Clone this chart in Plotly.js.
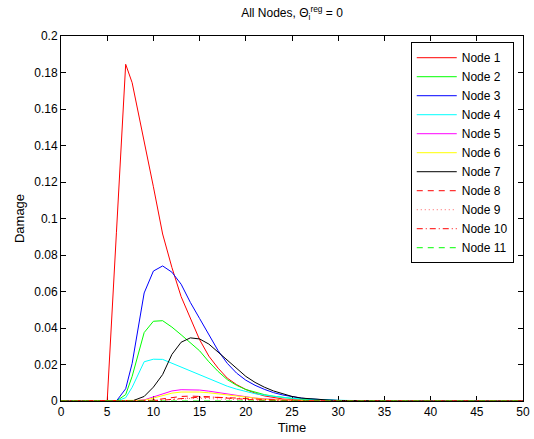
<!DOCTYPE html>
<html>
<head>
<meta charset="utf-8">
<script src="https://cdn.plot.ly/plotly-3.0.1.min.js"></script>
<style>html,body{margin:0;padding:0;background:#fff;}#chart{width:534px;height:439px;}</style>
</head>
<body>
<div id="chart"></div>
<script>
// Time samples
const time = [0,1,2,3,4,5,6,7,7.7,9,10,11,12,13,14,15,16,17,18,19,20,21,22,23,24,25,26,27,28,29,30,31,32,33,34,35,36,37,38,39,40,41,42,43,44,45,46,47,48,49,50];

const node1 = [0,0,0,0,0,0,0.0925,0.1845,0.1744,0.1427,0.1174,0.0915,0.0732,0.0572,0.0458,0.0336,0.0246,0.0180,0.0125,0.0090,0.0063,0.0043,0.0028,0.0018,0.0011,0.0007,0.0004,0.0002,0.0001,0,0,0,0,0,0,0,0,0,0,0,0,0,0,0,0,0,0,0,0,0,0];
const node2 = [0,0,0,0,0,0,0,0.0035,0.0135,0.0375,0.0437,0.0440,0.0405,0.0363,0.0318,0.0275,0.0215,0.0162,0.0117,0.0086,0.0063,0.0047,0.0035,0.0026,0.0019,0.0014,0.0010,0.0007,0.0005,0.0003,0.0002,0.0001,0,0,0,0,0,0,0,0,0,0,0,0,0,0,0,0,0,0,0];
const node3 = [0,0,0,0,0,0,0,0.0067,0.0206,0.0592,0.0712,0.0740,0.0706,0.0640,0.0540,0.0452,0.0362,0.0276,0.0206,0.0153,0.0114,0.0086,0.0064,0.0046,0.0033,0.0023,0.0016,0.0011,0.0007,0.0005,0.0003,0.0002,0.0001,0,0,0,0,0,0,0,0,0,0,0,0,0,0,0,0,0,0];
const node4 = [0,0,0,0,0,0,0,0.0018,0.0075,0.0215,0.0229,0.0228,0.0207,0.0186,0.0164,0.0143,0.0120,0.0098,0.0081,0.0065,0.0051,0.0040,0.0032,0.0025,0.0019,0.0015,0.0012,0.0009,0.0007,0.0005,0.0004,0.0003,0.0002,0.0001,0.0001,0,0,0,0,0,0,0,0,0,0,0,0,0,0,0,0];
const node5 = [0,0,0,0,0,0,0,0,0,0.0006,0.0022,0.0040,0.0055,0.0062,0.0063,0.0060,0.0054,0.0046,0.0037,0.0029,0.0022,0.0016,0.0012,0.0008,0.0006,0.0004,0.0003,0.0002,0.0001,0,0,0,0,0,0,0,0,0,0,0,0,0,0,0,0,0,0,0,0,0,0];
const node6 = [0,0,0,0,0,0,0,0,0,0.0004,0.0016,0.0031,0.0043,0.0049,0.0051,0.0049,0.0045,0.0039,0.0032,0.0025,0.0019,0.0014,0.0010,0.0007,0.0005,0.0003,0.0002,0.0001,0,0,0,0,0,0,0,0,0,0,0,0,0,0,0,0,0,0,0,0,0,0,0];
const node7 = [0,0,0,0,0,0,0,0,0,0.0025,0.0076,0.0145,0.0255,0.0322,0.0346,0.0340,0.0312,0.0268,0.0222,0.0177,0.0135,0.0102,0.0076,0.0055,0.0039,0.0025,0.0016,0.0011,0.0007,0.0005,0.0003,0.0002,0.0001,0,0,0,0,0,0,0,0,0,0,0,0,0,0,0,0,0,0];
const node8 = [0,0,0,0,0,0,0,0,0,0,0.0005,0.0013,0.0020,0.0025,0.0027,0.0026,0.0023,0.0019,0.0015,0.0011,0.0008,0.0006,0.0004,0.0003,0.0002,0.0001,0,0,0,0,0,0,0,0,0,0,0,0,0,0,0,0,0,0,0,0,0,0,0,0,0];
const node9 = [0,0,0,0,0,0,0,0,0,0,0.0002,0.0005,0.0009,0.0012,0.0014,0.0015,0.0014,0.0012,0.0010,0.0008,0.0006,0.0004,0.0003,0.0002,0.0001,0,0,0,0,0,0,0,0,0,0,0,0,0,0,0,0,0,0,0,0,0,0,0,0,0,0];
const node10 = [0,0,0,0,0,0,0,0,0,0,0.0001,0.0004,0.0009,0.0014,0.0018,0.0021,0.0022,0.0021,0.0019,0.0016,0.0013,0.0010,0.0007,0.0005,0.0003,0.0002,0.0001,0,0,0,0,0,0,0,0,0,0,0,0,0,0,0,0,0,0,0,0,0,0,0,0];
const node11 = [0,0,0,0,0,0,0,0,0,0,0,0.0001,0.0001,0.0002,0.0002,0.0002,0.0002,0.0002,0.0001,0.0001,0.0001,0,0,0,0,0,0,0,0,0,0,0,0,0,0,0,0,0,0,0,0,0,0,0,0,0,0,0,0,0,0];

const seriesNames = ["Node 1","Node 2","Node 3","Node 4","Node 5","Node 6","Node 7","Node 8","Node 9","Node 10","Node 11"];
const seriesValues = [node1,node2,node3,node4,node5,node6,node7,node8,node9,node10,node11];
const seriesColors = ["#ff0000","#00ff00","#0000ff","#00ffff","#ff00ff","#ffff00","#000000","#ff0000","#ff6060","#ff0000","#00ff00"];
const seriesDash = ["solid","solid","solid","solid","solid","solid","solid","6px,5px","1px,3px","6px,3px,1px,3px","6px,5px"];

const xTickVals = [0,5,10,15,20,25,30,35,40,45,50];
const yTickVals = [0,0.02,0.04,0.06,0.08,0.1,0.12,0.14,0.16,0.18,0.2];
const yTickText = ["0","0.02","0.04","0.06","0.08","0.1","0.12","0.14","0.16","0.18","0.2"];

const traces = seriesNames.map((name, i) => ({
  x: time,
  y: seriesValues[i],
  name: name,
  type: "scatter",
  mode: "lines",
  line: {color: seriesColors[i], width: 1, dash: seriesDash[i]}
}));

const font = "Liberation Sans, Arial, Helvetica, sans-serif";
const layout = {
  width: 534, height: 439,
  margin: {l: 61, r: 11, t: 36, b: 38, pad: 0},
  paper_bgcolor: "#fff", plot_bgcolor: "#fff",
  font: {family: font, size: 12, color: "#000"},
  title: {
    text: "All Nodes, \u0398<sub>i</sub><sup>reg</sup> = 0",
    font: {family: font, size: 12, color: "#000"},
    x: 0.5, xref: "paper", xanchor: "center",
    y: 0.970, yref: "container", yanchor: "middle"
  },
  showlegend: true,
  legend: {
    x: 0.980, y: 0.983, xanchor: "right", yanchor: "top",
    bgcolor: "#fff", bordercolor: "#000", borderwidth: 1,
    font: {family: font, size: 12, color: "#000"},
    itemwidth: 40,
    tracegroupgap: 0
  },
  xaxis: {
    range: [0, 50], tickvals: xTickVals,
    ticks: "inside", ticklen: 5, tickwidth: 1, tickcolor: "#000",
    showline: true, linecolor: "#000", linewidth: 1, mirror: "ticks",
    showgrid: false, zeroline: false, layer: "below traces",
    tickfont: {family: font, size: 12, color: "#000"},
    title: {text: "Time", font: {family: font, size: 13, color: "#000"}, standoff: 4}
  },
  yaxis: {
    range: [0, 0.2], tickvals: yTickVals, ticktext: yTickText,
    ticks: "inside", ticklen: 5, tickwidth: 1, tickcolor: "#000",
    showline: true, linecolor: "#000", linewidth: 1, mirror: "ticks",
    showgrid: false, zeroline: false, layer: "below traces",
    tickfont: {family: font, size: 12, color: "#000"},
    title: {text: "Damage", font: {family: font, size: 13, color: "#000"}, standoff: 6}
  }
};

Plotly.newPlot("chart", traces, layout, {displayModeBar: false, staticPlot: true});
</script>
</body>
</html>
